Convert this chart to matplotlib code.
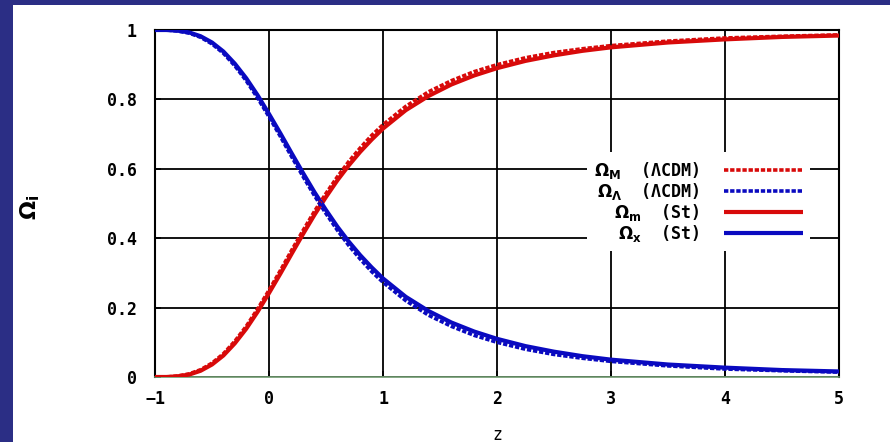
import matplotlib
matplotlib.use("Agg")
import matplotlib.pyplot as plt
from matplotlib.patches import Rectangle

# redshift samples
z = [-1.0, -0.9, -0.8, -0.7, -0.6, -0.5, -0.4, -0.3, -0.2, -0.1,
     0.0, 0.1, 0.2, 0.3, 0.4, 0.5, 0.6, 0.7, 0.8, 0.9,
     1.0, 1.2, 1.4, 1.6, 1.8, 2.0, 2.25, 2.5, 2.75, 3.0,
     3.5, 4.0, 4.5, 5.0]

# density parameters, LambdaCDM
omega_m_lcdm = [0.000, 0.000, 0.003, 0.009, 0.021, 0.040, 0.067, 0.103, 0.146, 0.196,
                0.250, 0.307, 0.366, 0.423, 0.478, 0.529, 0.577, 0.621, 0.660, 0.696,
                0.727, 0.780, 0.822, 0.854, 0.880, 0.900, 0.920, 0.935, 0.946, 0.955,
                0.968, 0.977, 0.982, 0.986]
omega_l_lcdm = [1.000, 1.000, 0.997, 0.991, 0.979, 0.960, 0.933, 0.897, 0.854, 0.804,
                0.750, 0.693, 0.634, 0.577, 0.522, 0.471, 0.423, 0.379, 0.340, 0.304,
                0.273, 0.220, 0.178, 0.146, 0.120, 0.100, 0.080, 0.065, 0.054, 0.045,
                0.032, 0.023, 0.018, 0.014]

# density parameters, St model
omega_m_st = [0.000, 0.000, 0.002, 0.007, 0.018, 0.036, 0.062, 0.097, 0.139, 0.188,
              0.242, 0.298, 0.356, 0.413, 0.468, 0.519, 0.567, 0.610, 0.649, 0.684,
              0.716, 0.769, 0.810, 0.843, 0.869, 0.890, 0.911, 0.927, 0.940, 0.950,
              0.964, 0.973, 0.980, 0.984]
omega_x_st = [1.000, 1.000, 0.998, 0.993, 0.982, 0.964, 0.938, 0.903, 0.861, 0.812,
              0.758, 0.702, 0.644, 0.587, 0.532, 0.481, 0.433, 0.390, 0.351, 0.316,
              0.284, 0.231, 0.190, 0.157, 0.131, 0.110, 0.089, 0.073, 0.060, 0.050,
              0.036, 0.027, 0.020, 0.016]

x_ticks = [-1, 0, 1, 2, 3, 4, 5]
x_tick_labels = ["\u22121", "0", "1", "2", "3", "4", "5"]
y_ticks = [0, 0.2, 0.4, 0.6, 0.8, 1]
y_tick_labels = ["0", "0.2", "0.4", "0.6", "0.8", "1"]

plt.rcParams["font.family"] = ["DejaVu Sans Mono", "DejaVu Sans"]
plt.rcParams["font.weight"] = "bold"
plt.rcParams["mathtext.default"] = "bf"

RED = "#d80a0a"
BLUE = "#0a0ac0"

fig = plt.figure(figsize=(8.9, 4.42), dpi=100, facecolor="#2b2e85")
# white slide panel behind the plot
fig.patches.append(Rectangle((13 / 890, 0), 1 - 13 / 890, 1 - 5 / 442,
                             transform=fig.transFigure, facecolor="white",
                             edgecolor="none", zorder=-10))

ax = fig.add_axes([155 / 890, 1 - 377 / 442, 684 / 890, 347 / 442])
ax.set_zorder(5)
ax.set_facecolor("white")

ax.plot(z, omega_m_st, color=RED, lw=3.0, solid_capstyle="butt", zorder=3,
        label=r"$\Omega_m$  (St)")
ax.plot(z, omega_x_st, color=BLUE, lw=3.0, solid_capstyle="butt", zorder=3,
        label=r"$\Omega_x$  (St)")
ax.plot(z, omega_m_lcdm, color=RED, lw=2.6, ls=(0, (1.2, 0.5)), zorder=4,
        label=r"$\Omega_M$  (ΛCDM)")
ax.plot(z, omega_l_lcdm, color=BLUE, lw=2.6, ls=(0, (1.2, 0.5)), zorder=4,
        label=r"$\Omega_\Lambda$  (ΛCDM)")

ax.set_xlim(-1, 5)
ax.set_ylim(0, 1)
ax.set_xticks(x_ticks, x_tick_labels)
ax.set_yticks(y_ticks, y_tick_labels)
ax.tick_params(axis="both", direction="in", length=4, width=1.2, color="black",
               labelsize=12)
ax.tick_params(axis="y", pad=13)
ax.tick_params(axis="x", pad=9)

ax.grid(True, color="black", lw=1.3, zorder=1)
ax.set_axisbelow(True)
for side in ("left", "right", "top"):
    ax.spines[side].set_color("black")
    ax.spines[side].set_linewidth(1.5)
ax.spines["bottom"].set_color("#6f9a6f")
ax.spines["bottom"].set_linewidth(1.2)

ax.set_ylabel(r"$\Omega_i$", fontsize=16, rotation=90)
ax.yaxis.set_label_coords(-0.165, 0.49)
ax.set_xlabel("z", fontsize=12)
ax.xaxis.set_label_coords(0.5, -0.14)

handles, labels = ax.get_legend_handles_labels()
order = [2, 3, 0, 1]
leg = ax.legend([handles[i] for i in order], [labels[i] for i in order],
                markerfirst=False, loc="upper right",
                bbox_to_anchor=(0.958, 0.648), borderaxespad=0,
                frameon=True, fancybox=False, framealpha=1,
                facecolor="white", edgecolor="none",
                handlelength=4.7, handletextpad=1.5, labelspacing=0.0,
                borderpad=0.45, fontsize=12)
leg.set_zorder(5)

fig.savefig("out.png", dpi=100, facecolor=fig.get_facecolor())
